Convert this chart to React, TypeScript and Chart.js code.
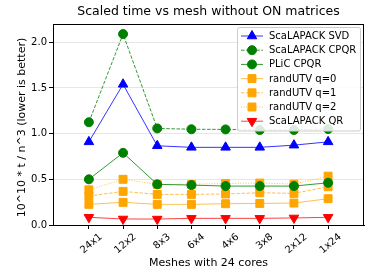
import React, { useEffect, useRef } from "react";
import { Chart, registerables } from "chart.js";

Chart.register(...registerables);

const meshes = ["24x1", "12x2", "8x3", "6x4", "4x6", "3x8", "2x12", "1x24"];
const yTicks = [0, 0.5, 1.0, 1.5, 2.0];

const scalapackSvd = [0.91, 1.54, 0.867, 0.85, 0.85, 0.85, 0.874, 0.91];
const scalapackCpqr = [1.125, 2.09, 1.057, 1.048, 1.046, 1.04, 1.04, 1.05];
const plicCpqr = [0.5, 0.79, 0.445, 0.437, 0.426, 0.426, 0.426, 0.462];
const randUtvQ0 = [0.226, 0.248, 0.226, 0.226, 0.233, 0.236, 0.24, 0.288];
const randUtvQ1 = [0.317, 0.368, 0.335, 0.335, 0.34, 0.353, 0.346, 0.419];
const randUtvQ2 = [0.385, 0.5, 0.445, 0.445, 0.455, 0.459, 0.448, 0.535];
const scalapackQr = [0.084, 0.066, 0.065, 0.073, 0.073, 0.073, 0.077, 0.084];

const FONT = "'DejaVu Sans', sans-serif";

type Series = {
  label: string;
  data: number[];
  color: string;
  lineColor: string;
  dash: number[];
  style: string;
  radius: number;
  rotation: number;
};

const series: Series[] = [
  { label: "ScaLAPACK SVD", data: scalapackSvd, color: "#0000ff", lineColor: "rgba(0,0,255,0.8)", dash: [], style: "triangle", radius: 5.5, rotation: 0 },
  { label: "ScaLAPACK CPQR", data: scalapackCpqr, color: "#008000", lineColor: "rgba(0,128,0,0.8)", dash: [3.5, 1.6], style: "circle", radius: 4.5, rotation: 0 },
  { label: "PLiC CPQR", data: plicCpqr, color: "#008000", lineColor: "rgba(0,128,0,0.8)", dash: [], style: "circle", radius: 4.5, rotation: 0 },
  { label: "randUTV q=0", data: randUtvQ0, color: "#ffa500", lineColor: "rgba(255,165,0,0.7)", dash: [], style: "rect", radius: 5.6, rotation: 0 },
  { label: "randUTV q=1", data: randUtvQ1, color: "#ffa500", lineColor: "rgba(255,165,0,0.7)", dash: [3.5, 1.6], style: "rect", radius: 5.6, rotation: 0 },
  { label: "randUTV q=2", data: randUtvQ2, color: "#ffa500", lineColor: "rgba(255,165,0,0.7)", dash: [1, 1.6], style: "rect", radius: 5.6, rotation: 0 },
  { label: "ScaLAPACK QR", data: scalapackQr, color: "#ff0000", lineColor: "rgba(255,0,0,0.75)", dash: [], style: "triangle", radius: 5.5, rotation: 180 },
];

function drawMarker(ctx: CanvasRenderingContext2D, s: Series, x: number, y: number) {
  ctx.save();
  ctx.fillStyle = s.color;
  ctx.strokeStyle = s.color;
  ctx.lineWidth = 1;
  ctx.setLineDash([]);
  ctx.beginPath();
  const r = s.radius;
  if (s.style === "circle") {
    ctx.arc(x, y, r, 0, Math.PI * 2);
  } else if (s.style === "rect") {
    const h = Math.SQRT1_2 * r;
    ctx.rect(x - h, y - h, 2 * h, 2 * h);
  } else {
    const dir = s.rotation === 180 ? -1 : 1;
    const a = (Math.PI * 2) / 3;
    for (let i = 0; i < 3; i++) {
      const ang = i * a;
      const px = x + Math.sin(ang) * r;
      const py = y - dir * Math.cos(ang) * r;
      if (i === 0) ctx.moveTo(px, py);
      else ctx.lineTo(px, py);
    }
    ctx.closePath();
  }
  ctx.fill();
  ctx.stroke();
  ctx.restore();
}

const decorPlugin = {
  id: "decor",
  afterDatasetsDraw(chart: any) {
    const ctx: CanvasRenderingContext2D = chart.ctx;
    const area = chart.chartArea;
    // frame
    ctx.save();
    ctx.strokeStyle = "#000";
    ctx.lineWidth = 1;
    ctx.strokeRect(Math.round(area.left) + 0.5, Math.round(area.top) + 0.5, Math.round(area.right - area.left) - 1, Math.round(area.bottom - area.top));
    ctx.restore();

    // legend
    const bx = 237.5, by = 27.5, bw = 123, bh = 103.5;
    ctx.save();
    ctx.fillStyle = "rgba(255,255,255,0.85)";
    ctx.strokeStyle = "#cccccc";
    ctx.lineWidth = 1;
    ctx.beginPath();
    const rr = 2;
    ctx.moveTo(bx + rr, by);
    ctx.lineTo(bx + bw - rr, by);
    ctx.quadraticCurveTo(bx + bw, by, bx + bw, by + rr);
    ctx.lineTo(bx + bw, by + bh - rr);
    ctx.quadraticCurveTo(bx + bw, by + bh, bx + bw - rr, by + bh);
    ctx.lineTo(bx + rr, by + bh);
    ctx.quadraticCurveTo(bx, by + bh, bx, by + bh - rr);
    ctx.lineTo(bx, by + rr);
    ctx.quadraticCurveTo(bx, by, bx + rr, by);
    ctx.closePath();
    ctx.fill();
    ctx.stroke();
    ctx.font = `10px ${FONT}`;
    ctx.textBaseline = "middle";
    ctx.textAlign = "left";
    series.forEach((s, i) => {
      const y = 36 + i * 14.2;
      ctx.save();
      ctx.strokeStyle = s.lineColor;
      ctx.lineWidth = 1;
      ctx.setLineDash(s.dash);
      ctx.beginPath();
      ctx.moveTo(241, y);
      ctx.lineTo(263, y);
      ctx.stroke();
      ctx.restore();
      drawMarker(ctx, s, 252, y);
      ctx.fillStyle = "#000";
      ctx.fillText(s.label, 269, y + 0.5);
    });
    ctx.restore();
  },
  afterDraw(chart: any) {
    const ctx: CanvasRenderingContext2D = chart.ctx;
    const area = chart.chartArea;
    ctx.save();
    ctx.fillStyle = "#000";
    ctx.textAlign = "center";
    ctx.textBaseline = "middle";
    ctx.font = `12.5px ${FONT}`;
    ctx.fillText("Scaled time vs mesh without ON matrices", (area.left + area.right) / 2, 12);
    ctx.font = `11px ${FONT}`;
    ctx.fillText("Meshes with 24 cores", (area.left + area.right) / 2, 263);
    ctx.translate(22, 127.5);
    ctx.rotate(-Math.PI / 2);
    ctx.fillText("10^10 * t / n^3 (lower is better)", 0, 0);
    ctx.restore();
  },
};

export default function App() {
  const ref = useRef<HTMLCanvasElement>(null);
  useEffect(() => {
    document.body.style.margin = "0";
    const canvas = ref.current!;
    const chart = new Chart(canvas, {
      type: "line",
      data: {
        datasets: series.map((s) => ({
          label: s.label,
          data: s.data.map((v, i) => ({ x: i, y: v })),
          borderColor: s.lineColor,
          backgroundColor: s.color,
          borderWidth: 1,
          borderDash: s.dash,
          pointStyle: s.style as any,
          pointRotation: s.rotation,
          pointRadius: s.radius,
          pointBorderColor: s.color,
          pointBackgroundColor: s.color,
          pointBorderWidth: 1,
          tension: 0,
          fill: false,
        })),
      },
      options: {
        animation: false,
        responsive: false,
        maintainAspectRatio: false,
        layout: { padding: { left: 0, right: 10, top: 24, bottom: 0 } },
        plugins: { legend: { display: false }, title: { display: false }, tooltip: { enabled: false } },
        scales: {
          x: {
            type: "linear",
            min: -1.05,
            max: 8.05,
            afterBuildTicks: (scale: any) => {
              scale.ticks = meshes.map((_, i) => ({ value: i }));
            },
            afterFit: (scale: any) => {
              scale.height = 55;
            },
            ticks: {
              autoSkip: false,
              minRotation: 40,
              maxRotation: 40,
              padding: 2,
              labelOffset: 12,
              color: "#000",
              font: { family: FONT, size: 10 },
              callback: (v: any) => meshes[Math.round(Number(v))] ?? "",
            },
            grid: { drawOnChartArea: false, tickColor: "#000", tickLength: 4 },
            border: { color: "#000", width: 1 },
          },
          y: {
            type: "linear",
            min: 0,
            max: 2.2,
            afterBuildTicks: (scale: any) => {
              scale.ticks = yTicks.map((v) => ({ value: v }));
            },
            afterFit: (scale: any) => {
              scale.width = 53;
            },
            ticks: {
              padding: 2,
              color: "#000",
              font: { family: FONT, size: 10 },
              callback: (v: any) => Number(v).toFixed(1),
            },
            grid: { color: "#e6e6e6", tickColor: "#000", tickLength: 4 },
            border: { color: "#000", width: 1 },
          },
        },
      },
      plugins: [decorPlugin],
    });
    return () => chart.destroy();
  }, []);
  return <canvas ref={ref} width={374} height={280} style={{ display: "block" }} />;
}
